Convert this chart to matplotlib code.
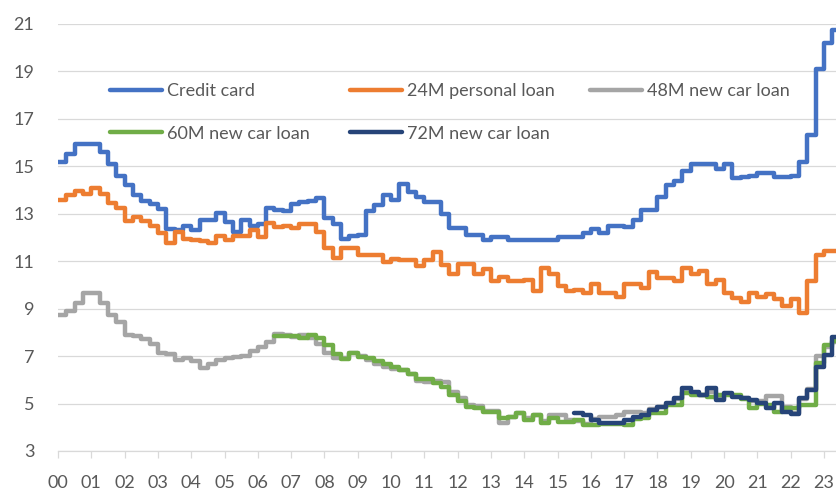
import numpy as np
import matplotlib
matplotlib.use('Agg')
import matplotlib.pyplot as plt

plt.rcParams['font.family'] = ['Lato', 'DejaVu Sans']

# Quarterly rates (%)
credit_card_start = 2000.0
credit_card = [
    15.2, 15.5, 15.95, 15.95,   # 2000
    15.95, 15.6, 15.1, 14.6,    # 2001
    14.2, 13.8, 13.55, 13.4,    # 2002
    13.2, 12.35, 12.3, 12.5,    # 2003
    12.3, 12.75, 12.75, 13.05,  # 2004
    12.65, 12.25, 12.75, 12.5,  # 2005
    12.55, 13.25, 13.15, 13.1,  # 2006
    13.4, 13.5, 13.55, 13.65,   # 2007
    12.8, 12.55, 11.95, 12.05,  # 2008
    12.1, 13.1, 13.35, 13.8,    # 2009
    13.6, 14.25, 13.9, 13.7,    # 2010
    13.5, 13.5, 13.0, 12.4,     # 2011
    12.4, 12.1, 12.1, 11.9,     # 2012
    12.0, 12.0, 11.9, 11.9,     # 2013
    11.9, 11.9, 11.9, 11.9,     # 2014
    12.0, 12.0, 12.0, 12.2,     # 2015
    12.35, 12.2, 12.5, 12.5,    # 2016
    12.45, 12.75, 13.15, 13.15, # 2017
    13.7, 14.2, 14.4, 14.8,     # 2018
    15.1, 15.1, 15.1, 14.9,     # 2019
    15.1, 14.5, 14.55, 14.6,    # 2020
    14.7, 14.7, 14.55, 14.55,   # 2021
    14.6, 15.2, 16.3, 19.1,     # 2022
    20.2, 20.75,                # 2023
]

personal_24m_start = 2000.0
personal_24m = [
    13.6, 13.8, 13.95, 13.85,
    14.1, 13.85, 13.45, 13.25,
    12.7, 12.85, 12.7, 12.5,
    12.2, 11.75, 12.25, 11.95,
    11.9, 11.85, 11.75, 12.05,
    11.9, 12.05, 12.05, 12.3,
    12.0, 12.6, 12.45, 12.5,
    12.4, 12.55, 12.55, 12.25,
    11.55, 11.15, 11.55, 11.55,
    11.25, 11.25, 11.25, 10.95,
    11.1, 11.05, 11.05, 10.8,
    11.05, 11.4, 10.85, 10.45,
    10.9, 10.9, 10.45, 10.65,
    10.15, 10.35, 10.15, 10.15,
    10.2, 9.75, 10.7, 10.45,
    9.95, 9.75, 9.8, 9.65,
    10.05, 9.65, 9.65, 9.5,
    10.05, 10.05, 9.85, 10.55,
    10.3, 10.3, 10.15, 10.7,
    10.45, 10.6, 10.05, 10.2,
    9.65, 9.45, 9.3, 9.65,
    9.5, 9.6, 9.4, 9.1,
    9.4, 8.8, 10.15, 11.25,
    11.45, 11.45,
]

car_48m_start = 2000.0
car_48m = [
    8.75, 8.9, 9.25, 9.65,
    9.65, 9.25, 8.75, 8.45,
    7.9, 7.85, 7.7, 7.5,
    7.15, 7.1, 6.85, 6.9,
    6.8, 6.5, 6.65, 6.85,
    6.9, 6.95, 7.0, 7.2,
    7.4, 7.6, 7.95, 7.9,
    7.8, 7.9, 7.75, 7.5,
    7.15, 6.9, 6.9, 7.15,
    7.0, 6.85, 6.65, 6.55,
    6.45, 6.4, 6.25, 5.95,
    5.9, 5.95, 5.92, 5.5,
    5.25, 4.95, 4.9, 4.7,
    4.7, 4.2, 4.45, 4.6,
    4.4, 4.5, 4.25, 4.5,
    4.5, 4.3, 4.25, 4.15,
    4.35, 4.45, 4.45, 4.5,
    4.65, 4.65, 4.6, 4.75,
    4.85, 5.0, 5.2, 5.5,
    5.4, 5.35, 5.5, 5.2,
    5.4, 5.3, 5.25, 5.1,
    5.1, 5.3, 5.3, 4.85,
    4.6, 5.2, 5.6, 7.0,
    7.4, 7.6,
]

car_60m_start = 2006.5
car_60m = [
    7.85, 7.85,
    7.85, 7.75, 7.9, 7.75,
    7.45, 7.1, 6.87, 7.15,
    6.97, 6.9, 6.8, 6.65,
    6.55, 6.4, 6.25, 6.05,
    6.05, 5.85, 5.7, 5.36,
    5.1, 4.87, 4.8, 4.66,
    4.66, 4.38, 4.45, 4.62,
    4.31, 4.52, 4.17, 4.38,
    4.24, 4.24, 4.31, 4.1,
    4.1, 4.15, 4.15, 4.15,
    4.1, 4.35, 4.38, 4.59,
    4.59, 4.94, 4.94, 5.43,
    5.36, 5.36, 5.29, 5.36,
    5.36, 5.36, 5.2, 4.8,
    5.0, 4.95, 4.66, 4.8,
    4.8, 4.94, 4.94, 6.69,
    7.47, 7.65,
]

car_72m_start = 2015.5
car_72m = [
    4.59, 4.52,
    4.31, 4.17, 4.17, 4.17,
    4.31, 4.45, 4.52, 4.73,
    4.84, 5.01, 5.22, 5.64,
    5.5, 5.36, 5.64, 5.15,
    5.43, 5.29, 5.22, 5.15,
    5.01, 4.8, 5.01, 4.66,
    4.56, 5.22, 5.57, 6.55,
    7.04, 7.82,
]

series = [
    ('Credit card', credit_card_start, credit_card, '#4472C4'),
    ('24M personal loan', personal_24m_start, personal_24m, '#ED7D31'),
    ('48M new car loan', car_48m_start, car_48m, '#A5A5A5'),
    ('60M new car loan', car_60m_start, car_60m, '#70AD47'),
    ('72M new car loan', car_72m_start, car_72m, '#264478'),
]

year_labels = ['%02d' % y for y in range(0, 24)]
y_ticks = list(range(3, 22, 2))

fig = plt.figure(figsize=(8.37, 4.91), dpi=100)
ax = fig.add_axes([0.0693, 0.0815, 0.9307, 0.8697])

handles = {}
for name, start, vals, color in series:
    x = (start - 2000) + 0.25 * np.arange(len(vals))
    # extend the final quarter so the last step is visible
    x = np.append(x, x[-1] + 0.1)
    v = np.append(vals, vals[-1])
    ln, = ax.plot(x, v, drawstyle='steps-post', color=color, linewidth=3.2,
                  solid_joinstyle='round', solid_capstyle='round', label=name)
    handles[name] = ln

ax.set_xlim(0, 23.39)
ax.set_ylim(3, 21)
ax.set_xticks(range(0, 24))
ax.set_xticklabels(year_labels)
ax.set_yticks(y_ticks)
ax.grid(axis='y', color='#D9D9D9', linewidth=0.9)
ax.set_axisbelow(True)
for s in ['top', 'right', 'left']:
    ax.spines[s].set_visible(False)
ax.spines['bottom'].set_color('#D9D9D9')
ax.spines['bottom'].set_linewidth(0.9)
ax.tick_params(axis='x', length=5, width=0.9, color='#D9D9D9', labelsize=13,
               labelcolor='#595959', pad=12)
ax.tick_params(axis='y', length=0, labelsize=13, labelcolor='#595959', pad=17)

# legend laid out as three fixed-width columns
columns = [['Credit card', '60M new car loan'],
           ['24M personal loan', '72M new car loan'],
           ['48M new car loan']]
col_x = [110, 350, 590]
for names, cx in zip(columns, col_x):
    leg = fig.legend([handles[n] for n in names], names, loc='upper left',
                     bbox_to_anchor=(cx / 837, 1 - 83 / 491),
                     frameon=False, fontsize=13, handlelength=2.9, handletextpad=0.25,
                     labelspacing=1.48, borderpad=0, borderaxespad=0)
    for t in leg.get_texts():
        t.set_color('#595959')

fig.savefig('out.png', dpi=100)
